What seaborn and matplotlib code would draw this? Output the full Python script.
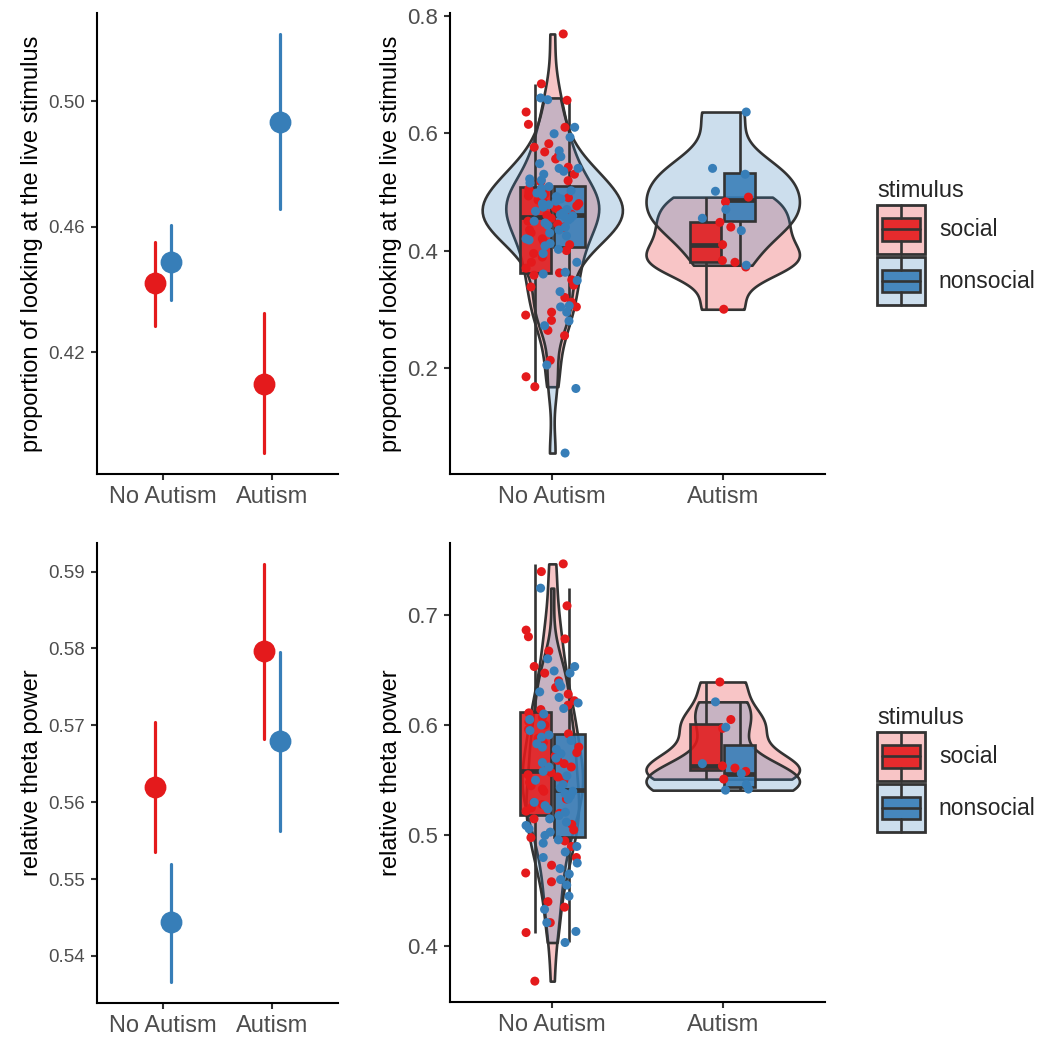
import numpy as np
import pandas as pd
import matplotlib
matplotlib.use("Agg")
import matplotlib.pyplot as plt
import seaborn as sns
from matplotlib.legend_handler import HandlerBase
from matplotlib.patches import Rectangle, Patch
from matplotlib.lines import Line2D

groups = ["No Autism", "Autism"]
stimuli = ["social", "nonsocial"]
colors = {"social": "#E41A1C", "nonsocial": "#377EB8"}
dark = "#333333"

# summary estimates with lower / upper interval (left column)
look_est = {"social": [0.442, 0.410], "nonsocial": [0.4488, 0.4934]}
look_lo = {"social": [0.4283, 0.3879], "nonsocial": [0.4366, 0.4657]}
look_hi = {"social": [0.4552, 0.4326], "nonsocial": [0.4607, 0.5215]}

theta_est = {"social": [0.562, 0.5797], "nonsocial": [0.5444, 0.5679]}
theta_lo = {"social": [0.5535, 0.5682], "nonsocial": [0.5366, 0.5563]}
theta_hi = {"social": [0.5704, 0.591], "nonsocial": [0.5519, 0.5795]}

# individual observations (right column)
look_na_social = [0.168, 0.185, 0.213, 0.255, 0.264, 0.281, 0.29, 0.295, 0.304, 0.312,
                  0.32, 0.338, 0.341, 0.35, 0.358, 0.362, 0.37, 0.38, 0.389, 0.395,
                  0.40, 0.41, 0.415, 0.42, 0.43, 0.435, 0.44, 0.445, 0.45, 0.455,
                  0.46, 0.462, 0.465, 0.47, 0.473, 0.476, 0.48, 0.483, 0.486, 0.49,
                  0.493, 0.496, 0.499, 0.502, 0.505, 0.517, 0.519, 0.53, 0.542, 0.556,
                  0.562, 0.568, 0.576, 0.582, 0.61, 0.615, 0.636, 0.656, 0.684, 0.769]
look_na_nonsocial = [0.055, 0.165, 0.205, 0.272, 0.28, 0.295, 0.304, 0.306, 0.33, 0.349,
                     0.36, 0.363, 0.38, 0.395, 0.402, 0.408, 0.412, 0.418, 0.42, 0.425,
                     0.43, 0.435, 0.44, 0.443, 0.447, 0.45, 0.452, 0.455, 0.457, 0.459,
                     0.461, 0.464, 0.467, 0.47, 0.474, 0.478, 0.48, 0.484, 0.488, 0.492,
                     0.495, 0.498, 0.502, 0.506, 0.509, 0.515, 0.52, 0.522, 0.53, 0.535,
                     0.54, 0.54, 0.548, 0.56, 0.57, 0.593, 0.599, 0.61, 0.657, 0.66]
look_au_social = [0.30, 0.372, 0.38, 0.383, 0.41, 0.44, 0.448, 0.483, 0.491]
look_au_nonsocial = [0.375, 0.434, 0.455, 0.47, 0.501, 0.53, 0.54, 0.636]

theta_na_social = [0.368, 0.412, 0.421, 0.435, 0.44, 0.458, 0.466, 0.473, 0.48, 0.49,
                   0.495, 0.498, 0.505, 0.51, 0.515, 0.52, 0.522, 0.525, 0.528, 0.53,
                   0.533, 0.537, 0.54, 0.542, 0.545, 0.548, 0.55, 0.553, 0.555, 0.557,
                   0.559, 0.562, 0.565, 0.568, 0.572, 0.575, 0.58, 0.584, 0.588, 0.592,
                   0.596, 0.6, 0.603, 0.607, 0.611, 0.614, 0.618, 0.622, 0.628, 0.634,
                   0.64, 0.647, 0.653, 0.667, 0.678, 0.68, 0.686, 0.708, 0.739, 0.746]
theta_na_nonsocial = [0.403, 0.413, 0.421, 0.433, 0.445, 0.455, 0.46, 0.465, 0.47, 0.475,
                      0.48, 0.485, 0.49, 0.493, 0.496, 0.5, 0.503, 0.506, 0.509, 0.512,
                      0.515, 0.518, 0.521, 0.524, 0.527, 0.53, 0.533, 0.536, 0.538, 0.54,
                      0.543, 0.546, 0.55, 0.554, 0.558, 0.562, 0.566, 0.57, 0.574, 0.578,
                      0.58, 0.583, 0.586, 0.589, 0.591, 0.595, 0.6, 0.605, 0.61, 0.615,
                      0.62, 0.625, 0.63, 0.635, 0.638, 0.647, 0.649, 0.653, 0.66, 0.724]
theta_au_social = [0.551, 0.558, 0.561, 0.563, 0.597, 0.605, 0.639]
theta_au_nonsocial = [0.541, 0.542, 0.546, 0.556, 0.565, 0.598, 0.621]

LW = 1.9


def summary_frame(est, lo, hi):
    # three rows per cell: median -> estimate, 100% interval -> lo..hi
    rows = []
    for s in stimuli:
        for i, g in enumerate(groups):
            for v in (lo[s][i], est[s][i], hi[s][i]):
                rows.append((g, s, v))
    return pd.DataFrame(rows, columns=["group", "stimulus", "value"])


def raw_frame(parts):
    rows = [(g, s, v) for (g, s), vals in parts.items() for v in vals]
    return pd.DataFrame(rows, columns=["group", "stimulus", "value"])


class BoxKeyHandler(HandlerBase):
    def create_artists(self, legend, orig_handle, xdescent, ydescent,
                       width, height, fontsize, trans):
        col = orig_handle.get_facecolor()
        x0, y0 = -xdescent, -ydescent
        outer = Rectangle((x0, y0), width, height, facecolor=(*col[:3], 0.25),
                          edgecolor=dark, lw=2.0, transform=trans)
        bw, bh = width * 0.78, height * 0.46
        bx, by = x0 + (width - bw) / 2, y0 + (height - bh) / 2
        inner = Rectangle((bx, by), bw, bh, facecolor=(*col[:3], 0.9),
                          edgecolor=dark, lw=LW, transform=trans)
        cx = x0 + width / 2
        med = Line2D([bx, bx + bw], [y0 + height / 2] * 2, color=dark, lw=LW, transform=trans)
        w1 = Line2D([cx, cx], [y0, by], color=dark, lw=LW, transform=trans)
        w2 = Line2D([cx, cx], [by + bh, y0 + height], color=dark, lw=LW, transform=trans)
        return [outer, inner, med, w1, w2]


def style_axis(ax, ylabel, ticks, fmt, ytick_size):
    sns.despine(ax=ax)
    for sp in ("left", "bottom"):
        ax.spines[sp].set_linewidth(1.5)
        ax.spines[sp].set_color("black")
    ax.set_yticks(ticks)
    ax.set_yticklabels([fmt.format(t) for t in ticks])
    ax.tick_params(axis="both", length=4.5, width=1.5, color=dark, labelcolor="#4D4D4D", pad=4)
    ax.tick_params(axis="y", labelsize=ytick_size)
    ax.tick_params(axis="x", labelsize=17)
    ax.set_xlabel("")
    ax.set_ylabel(ylabel, fontsize=17, color="black")
    ax.set_xlim(-0.6, 1.6)


def point_panel(ax, df, ylabel, ticks):
    sns.pointplot(data=df, x="group", y="value", hue="stimulus", order=groups,
                  hue_order=stimuli, palette=colors, estimator="median",
                  errorbar=("pi", 100), dodge=0.15, linestyle="none", marker="o",
                  markersize=14, linewidth=2.3, legend=False, ax=ax)
    style_axis(ax, ylabel, ticks, "{:.2f}", 13.5)


def dist_panel(ax, df, ylabel, ticks):
    sns.violinplot(data=df, x="group", y="value", hue="stimulus", order=groups,
                   hue_order=stimuli, palette=colors, dodge=False, cut=0, width=0.9,
                   density_norm="area", bw_adjust=0.75, inner=None, linewidth=LW,
                   linecolor=dark, saturation=1, legend=False, ax=ax)
    for c in ax.collections:
        fc = c.get_facecolor()
        fc[:, 3] = 0.25
        c.set_facecolor(fc)
    np.random.seed(11)
    sns.stripplot(data=df, x="group", y="value", hue="stimulus", order=groups,
                  hue_order=stimuli, palette=colors, dodge=False, jitter=0.16,
                  size=6.5, linewidth=0, legend=False, ax=ax)
    sns.boxplot(data=df, x="group", y="value", hue="stimulus", order=groups,
                hue_order=stimuli, palette=colors, width=0.4, gap=0.1, dodge=True,
                showfliers=False, linewidth=LW, linecolor=dark, saturation=1,
                legend=False, medianprops={"linewidth": 3.4},
                capprops={"visible": False}, ax=ax)
    for p in ax.patches:
        fc = p.get_facecolor()
        p.set_facecolor((*fc[:3], 0.88))
    style_axis(ax, ylabel, ticks, "{:.1f}", 16)


sns.set_style("ticks")
plt.rcParams["font.family"] = ["Liberation Sans", "DejaVu Sans"]

fig = plt.figure(figsize=(10.46, 10.45), dpi=100)
W, H = 1046, 1045


def box(x0, x1, y0, y1):
    return [x0 / W, 1 - y1 / H, (x1 - x0) / W, (y1 - y0) / H]


ax_tl = fig.add_axes(box(97, 338, 13, 474))
ax_tr = fig.add_axes(box(450, 825, 13, 474))
ax_bl = fig.add_axes(box(97, 338, 543, 1003))
ax_br = fig.add_axes(box(450, 825, 543, 1002))

ylab_look = "proportion of looking at the live stimulus"
ylab_theta = "relative theta power"

point_panel(ax_tl, summary_frame(look_est, look_lo, look_hi), ylab_look, [0.42, 0.46, 0.50])
point_panel(ax_bl, summary_frame(theta_est, theta_lo, theta_hi), ylab_theta,
            [0.54, 0.55, 0.56, 0.57, 0.58, 0.59])

look_df = raw_frame({("No Autism", "social"): look_na_social,
                     ("No Autism", "nonsocial"): look_na_nonsocial,
                     ("Autism", "social"): look_au_social,
                     ("Autism", "nonsocial"): look_au_nonsocial})
theta_df = raw_frame({("No Autism", "social"): theta_na_social,
                      ("No Autism", "nonsocial"): theta_na_nonsocial,
                      ("Autism", "social"): theta_au_social,
                      ("Autism", "nonsocial"): theta_au_nonsocial})

dist_panel(ax_tr, look_df, ylab_look, [0.2, 0.4, 0.6, 0.8])
dist_panel(ax_br, theta_df, ylab_theta, [0.4, 0.5, 0.6, 0.7])

handles = [Patch(facecolor=colors[s]) for s in stimuli]
for top in (180, 707):
    fig.legend(handles=handles, labels=stimuli, handler_map={Patch: BoxKeyHandler()},
               title="stimulus", loc="upper left", bbox_to_anchor=(877 / W, 1 - top / H),
               frameon=False, fontsize=16.5, title_fontsize=17, handlelength=2.1,
               handleheight=2.85, labelspacing=0.15, handletextpad=0.6, borderpad=0,
               borderaxespad=0, alignment="left")

fig.savefig("out.png", dpi=100)
